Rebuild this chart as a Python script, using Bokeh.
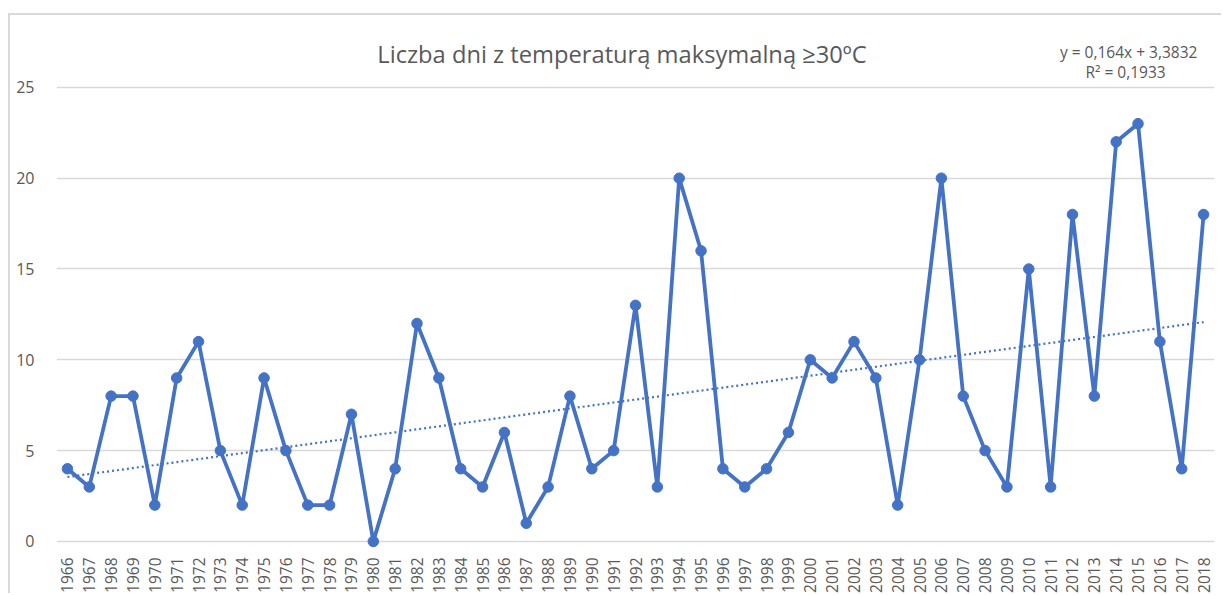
import math
from bokeh.plotting import figure
from bokeh.models import Label, FixedTicker, Range1d
from bokeh.embed import file_html
from bokeh.resources import INLINE

# ---- data ----
years = list(range(1966, 2019))
days = [4, 3, 8, 8, 2, 9, 11, 5, 2, 9,
        5, 2, 2, 7, 0, 4, 12, 9, 4, 3,
        6, 1, 3, 8, 4, 5, 13, 3, 20, 16,
        4, 3, 4, 6, 10, 9, 11, 9, 2, 10,
        20, 8, 5, 3, 15, 3, 18, 8, 22, 23,
        11, 4, 18]
y_ticks = [0, 5, 10, 15, 20, 25]
trend_slope = 0.164
trend_intercept = 3.3832
title_text = "Liczba dni z temperaturą maksymalną ≥30ºC"
eq_text = "y = 0,164x + 3,3832"
r2_text = "R² = 0,1933"

trend = [trend_intercept + trend_slope * (i + 1) for i in range(len(years))]

FONT = "Open Sans"
GREY = "#595959"
BLUE = "#4472C4"

p = figure(width=1213, height=580,
           x_range=Range1d(1965.5, 2018.5), y_range=Range1d(-0.5, 28.68),
           output_backend="svg", toolbar_location=None,
           min_border_left=46, min_border_right=9,
           min_border_top=5, min_border_bottom=44)
p.styles = {"border-left": "2px solid #d9d9d9",
            "border-top": "2px solid #d9d9d9",
            "margin-left": "8px",
            "margin-top": "13px"}
p.outline_line_color = None
p.background_fill_color = "white"
p.border_fill_color = "white"

p.xgrid.visible = False
p.ygrid.ticker = FixedTicker(ticks=y_ticks)
p.ygrid.grid_line_color = "#d9d9d9"
p.ygrid.grid_line_width = 1.5

p.yaxis.ticker = FixedTicker(ticks=y_ticks)
p.xaxis.ticker = FixedTicker(ticks=years)
for ax in (p.xaxis[0], p.yaxis[0]):
    ax.axis_line_color = None
    ax.major_tick_line_color = None
    ax.minor_tick_line_color = None
    ax.major_label_text_font = FONT
    ax.major_label_text_color = GREY
p.yaxis.major_label_text_font_size = "16px"
p.xaxis.major_label_text_font_size = "15.5px"
p.yaxis.major_label_standoff = 16
p.xaxis.major_label_standoff = 1
p.xaxis.major_label_orientation = math.pi / 2

p.line(years, days, line_color=BLUE, line_width=3.8, line_join="round")
p.scatter(years, days, size=10.5, fill_color=BLUE, line_color=BLUE)
p.line(years, trend, line_color=BLUE, line_width=2.2, line_dash="2 3")

def add_text(txt, x, y, size):
    p.add_layout(Label(x=x, y=y, text=txt,
                       text_font=FONT, text_font_size=size,
                       text_color=GREY, text_align="center",
                       text_baseline="alphabetic"))

add_text(title_text, 1991.38, 26.81, "23.7px")
add_text(eq_text, 2014.57, 26.92, "15.5px")
add_text(r2_text, 2014.43, 25.82, "15.5px")

open("out.html", "w").write(file_html(p, INLINE))
